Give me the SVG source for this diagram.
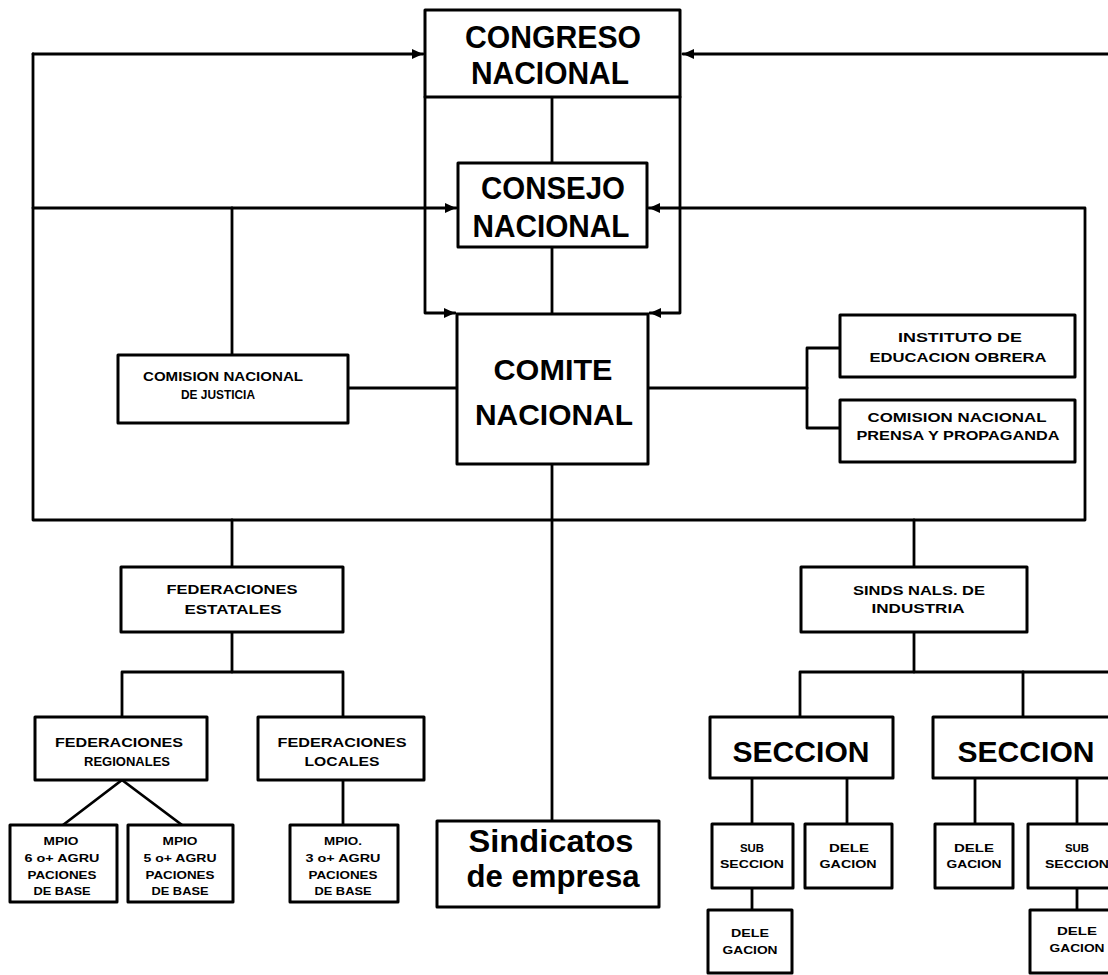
<svg xmlns="http://www.w3.org/2000/svg" width="1108" height="975" viewBox="0 0 1108 975">
<style>
.box{fill:#fff;stroke:#000;stroke-width:3;stroke-linejoin:round}
.ln{fill:none;stroke:#000;stroke-width:2.8;stroke-linejoin:round;stroke-linecap:round}
.t{font-family:"Liberation Sans",Arial,sans-serif;font-weight:bold;fill:#000;text-anchor:middle}
.big{font-size:32px}
.mid{font-size:30px}
.sm{font-size:12px}
.xs{font-size:11px}
</style>
<defs>
<marker id="arr" markerUnits="userSpaceOnUse" markerWidth="11" markerHeight="10" refX="11" refY="5" orient="auto">
<path d="M0,0 L11,5 L0,10 z" fill="#000"/>
</marker>
</defs>
<rect width="1108" height="975" fill="#fff"/>
<g id="connectors">
<path class="ln" d="M33,54 H423" marker-end="url(#arr)"/>
<path class="ln" d="M1108,54 H683" marker-end="url(#arr)"/>
<path class="ln" d="M33,54 V520 H1085 V208 H649" marker-end="url(#arr)"/>
<path class="ln" d="M33,208 H456" marker-end="url(#arr)"/>
<path class="ln" d="M232,208 V355"/>
<path class="ln" d="M425,97 V313 H455" marker-end="url(#arr)"/>
<path class="ln" d="M680,97 V313 H650" marker-end="url(#arr)"/>
<path class="ln" d="M552,97 V163"/>
<path class="ln" d="M552,247 V314"/>
<path class="ln" d="M348,388 H457"/>
<path class="ln" d="M648,388 H807"/>
<path class="ln" d="M840,348 H807 V428 H840"/>
<path class="ln" d="M552,464 V821"/>
<path class="ln" d="M232,520 V567"/>
<path class="ln" d="M232,632 V672"/>
<path class="ln" d="M122,717 V672 H343 V717"/>
<path class="ln" d="M343,780 V825"/>
<path class="ln" d="M63,825 L122,780 L182,825"/>
<path class="ln" d="M914,520 V567"/>
<path class="ln" d="M914,632 V672"/>
<path class="ln" d="M800,717 V672 H1108"/>
<path class="ln" d="M1023,672 V717"/>
<path class="ln" d="M752,778 V824"/>
<path class="ln" d="M847,778 V824"/>
<path class="ln" d="M752,888 V910"/>
<path class="ln" d="M975,778 V824"/>
<path class="ln" d="M1077,778 V824"/>
<path class="ln" d="M1077,888 V910"/>
</g>
<g id="congreso">
<rect class="box" x="425" y="10" width="255" height="87"/>
<text class="t big" x="553" y="48" textLength="176" lengthAdjust="spacingAndGlyphs">CONGRESO</text>
<text class="t big" x="550" y="84" textLength="158" lengthAdjust="spacingAndGlyphs">NACIONAL</text>
</g>
<g id="consejo">
<rect class="box" x="458" y="163" width="189" height="84"/>
<text class="t big" x="553" y="199" textLength="144" lengthAdjust="spacingAndGlyphs">CONSEJO</text>
<text class="t big" x="551" y="237" textLength="157" lengthAdjust="spacingAndGlyphs">NACIONAL</text>
</g>
<g id="comite">
<rect class="box" x="457" y="314" width="191" height="150"/>
<text class="t mid" x="553" y="380" textLength="119" lengthAdjust="spacingAndGlyphs">COMITE</text>
<text class="t mid" x="554" y="425" textLength="158" lengthAdjust="spacingAndGlyphs">NACIONAL</text>
</g>
<g id="justicia">
<rect class="box" x="118" y="355" width="230" height="68"/>
<text class="t sm" x="223" y="381" textLength="160" lengthAdjust="spacingAndGlyphs">COMISION NACIONAL</text>
<text class="t sm" x="218" y="399" textLength="74" lengthAdjust="spacingAndGlyphs">DE JUSTICIA</text>
</g>
<g id="instituto">
<rect class="box" x="840" y="315" width="235" height="62"/>
<text class="t sm" x="960" y="342" textLength="124" lengthAdjust="spacingAndGlyphs">INSTITUTO DE</text>
<text class="t sm" x="958" y="362" textLength="177" lengthAdjust="spacingAndGlyphs">EDUCACION OBRERA</text>
</g>
<g id="prensa">
<rect class="box" x="840" y="400" width="235" height="62"/>
<text class="t sm" x="957" y="422" textLength="179" lengthAdjust="spacingAndGlyphs">COMISION NACIONAL</text>
<text class="t sm" x="958" y="440" textLength="203" lengthAdjust="spacingAndGlyphs">PRENSA Y PROPAGANDA</text>
</g>
<g id="fed-estatales">
<rect class="box" x="121" y="567" width="222" height="65"/>
<text class="t sm" x="232" y="594" textLength="131" lengthAdjust="spacingAndGlyphs">FEDERACIONES</text>
<text class="t sm" x="233" y="614" textLength="97" lengthAdjust="spacingAndGlyphs">ESTATALES</text>
</g>
<g id="sinds">
<rect class="box" x="801" y="567" width="226" height="65"/>
<text class="t sm" x="919" y="595" textLength="132" lengthAdjust="spacingAndGlyphs">SINDS NALS. DE</text>
<text class="t sm" x="918" y="613" textLength="93" lengthAdjust="spacingAndGlyphs">INDUSTRIA</text>
</g>
<g id="fed-regionales">
<rect class="box" x="35" y="717" width="172" height="63"/>
<text class="t sm" x="119" y="747" textLength="128" lengthAdjust="spacingAndGlyphs">FEDERACIONES</text>
<text class="t sm" x="127" y="766" textLength="86" lengthAdjust="spacingAndGlyphs">REGIONALES</text>
</g>
<g id="fed-locales">
<rect class="box" x="258" y="717" width="166" height="63"/>
<text class="t sm" x="342" y="747" textLength="129" lengthAdjust="spacingAndGlyphs">FEDERACIONES</text>
<text class="t sm" x="342" y="766" textLength="75" lengthAdjust="spacingAndGlyphs">LOCALES</text>
</g>
<g id="mpio1">
<rect class="box" x="10" y="825" width="107" height="77"/>
<text class="t xs" x="61" y="845" textLength="35" lengthAdjust="spacingAndGlyphs">MPIO</text>
<text class="t xs" x="62" y="862" textLength="75" lengthAdjust="spacingAndGlyphs">6 o+ AGRU</text>
<text class="t xs" x="62" y="879" textLength="69" lengthAdjust="spacingAndGlyphs">PACIONES</text>
<text class="t xs" x="62" y="895" textLength="57" lengthAdjust="spacingAndGlyphs">DE BASE</text>
</g>
<g id="mpio2">
<rect class="box" x="128" y="825" width="105" height="77"/>
<text class="t xs" x="180" y="845" textLength="35" lengthAdjust="spacingAndGlyphs">MPIO</text>
<text class="t xs" x="180" y="862" textLength="73" lengthAdjust="spacingAndGlyphs">5 o+ AGRU</text>
<text class="t xs" x="180" y="879" textLength="69" lengthAdjust="spacingAndGlyphs">PACIONES</text>
<text class="t xs" x="180" y="895" textLength="57" lengthAdjust="spacingAndGlyphs">DE BASE</text>
</g>
<g id="mpio3">
<rect class="box" x="290" y="825" width="108" height="77"/>
<text class="t xs" x="343" y="845" textLength="38" lengthAdjust="spacingAndGlyphs">MPIO.</text>
<text class="t xs" x="343" y="862" textLength="75" lengthAdjust="spacingAndGlyphs">3 o+ AGRU</text>
<text class="t xs" x="343" y="879" textLength="69" lengthAdjust="spacingAndGlyphs">PACIONES</text>
<text class="t xs" x="343" y="895" textLength="57" lengthAdjust="spacingAndGlyphs">DE BASE</text>
</g>
<g id="sindicatos">
<rect class="box" x="437" y="821" width="222" height="86"/>
<text class="t big" x="551" y="852" textLength="165" lengthAdjust="spacingAndGlyphs">Sindicatos</text>
<text class="t big" x="553" y="887" textLength="173" lengthAdjust="spacingAndGlyphs">de empresa</text>
</g>
<g id="seccion1">
<rect class="box" x="710" y="717" width="183" height="61"/>
<text class="t mid" x="801" y="762" textLength="137" lengthAdjust="spacingAndGlyphs">SECCION</text>
</g>
<g id="seccion2">
<rect class="box" x="933" y="717" width="187" height="61"/>
<text class="t mid" x="1026" y="762" textLength="137" lengthAdjust="spacingAndGlyphs">SECCION</text>
</g>
<g id="subseccion1">
<rect class="box" x="712" y="824" width="81" height="64"/>
<text class="t xs" x="752" y="852" textLength="24" lengthAdjust="spacingAndGlyphs">SUB</text>
<text class="t xs" x="752" y="868" textLength="64" lengthAdjust="spacingAndGlyphs">SECCION</text>
</g>
<g id="delegacion1">
<rect class="box" x="805" y="824" width="87" height="64"/>
<text class="t xs" x="849" y="852" textLength="40" lengthAdjust="spacingAndGlyphs">DELE</text>
<text class="t xs" x="848" y="868" textLength="57" lengthAdjust="spacingAndGlyphs">GACION</text>
</g>
<g id="delegacion1b">
<rect class="box" x="708" y="910" width="84" height="63"/>
<text class="t xs" x="750" y="937" textLength="38" lengthAdjust="spacingAndGlyphs">DELE</text>
<text class="t xs" x="750" y="954" textLength="55" lengthAdjust="spacingAndGlyphs">GACION</text>
</g>
<g id="delegacion2">
<rect class="box" x="935" y="824" width="78" height="64"/>
<text class="t xs" x="974" y="852" textLength="40" lengthAdjust="spacingAndGlyphs">DELE</text>
<text class="t xs" x="974" y="868" textLength="55" lengthAdjust="spacingAndGlyphs">GACION</text>
</g>
<g id="subseccion2">
<rect class="box" x="1028" y="824" width="98" height="64"/>
<text class="t xs" x="1077" y="852" textLength="24" lengthAdjust="spacingAndGlyphs">SUB</text>
<text class="t xs" x="1077" y="868" textLength="64" lengthAdjust="spacingAndGlyphs">SECCION</text>
</g>
<g id="delegacion2b">
<rect class="box" x="1030" y="910" width="94" height="63"/>
<text class="t xs" x="1077" y="935" textLength="40" lengthAdjust="spacingAndGlyphs">DELE</text>
<text class="t xs" x="1077" y="952" textLength="55" lengthAdjust="spacingAndGlyphs">GACION</text>
</g>
</svg>
